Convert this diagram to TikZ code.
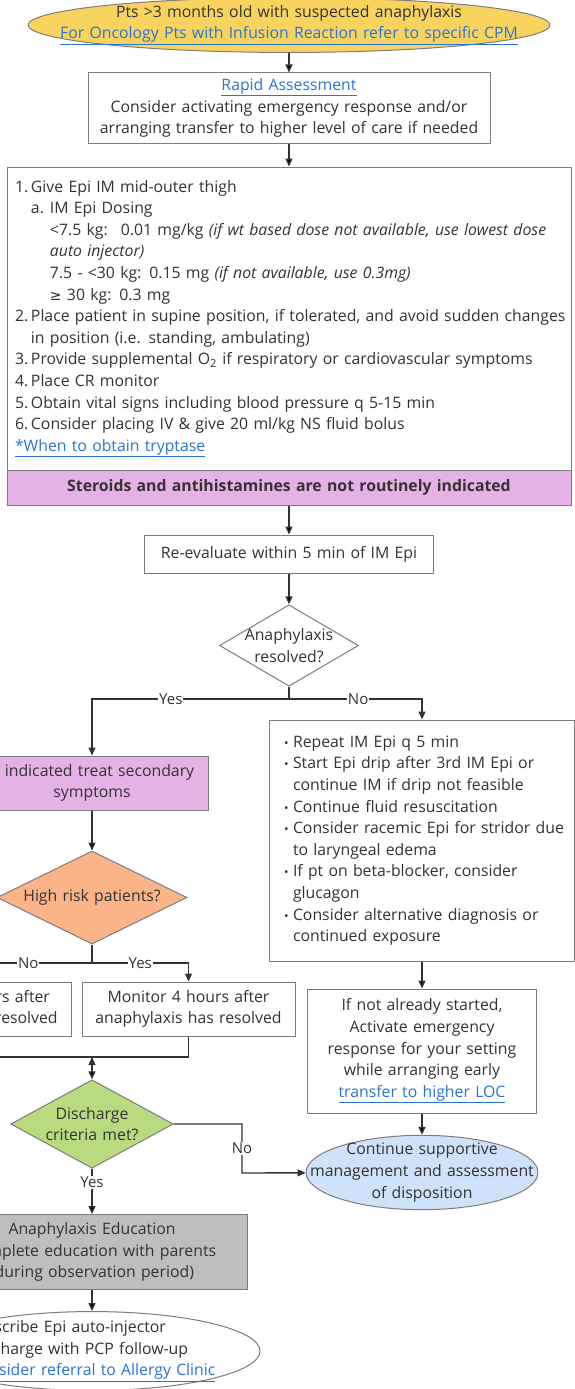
\documentclass[tikz,border=0pt]{standalone}
\usepackage{fontspec}
\setmainfont{Open Sans}
\newfontfamily\dvsans{DejaVu Sans}
\usetikzlibrary{shapes.geometric,arrows.meta}

\definecolor{startyel}{HTML}{F8D45E}
\definecolor{pinkbox}{HTML}{E6B1E4}
\definecolor{riskorng}{HTML}{FAB487}
\definecolor{dischgrn}{HTML}{B9DB7F}
\definecolor{contblue}{HTML}{CFE2FA}
\definecolor{edugray}{HTML}{BEBEBE}
\definecolor{linkblue}{HTML}{2B74D3}
\definecolor{textgray}{HTML}{333333}
\definecolor{framegray}{HTML}{7C7C7C}
\definecolor{arrowdark}{HTML}{333333}

\newcommand{\lnk}[1]{\textcolor{linkblue}{\underline{#1}}}
\newcommand{\bul}{\hspace*{9.5pt}\makebox[9pt][l]{\fontsize{12}{12}\selectfont\textbullet}}
\newcommand{\bulind}{\hspace*{18.5pt}}
\newcommand{\stepno}[1]{\makebox[16pt][l]{#1}}

\begin{document}
\begin{tikzpicture}[x=1pt,y=-1pt,
    font=\fontsize{15.8}{21.6}\selectfont,text=textgray,
    >={Triangle[length=8pt,width=7pt]},
    stepbox/.style={draw=framegray,line width=1pt,fill=white,inner sep=0pt,align=center},
    decide/.style={diamond,draw=framegray,line width=1pt,align=center},
    oval/.style={ellipse,draw=framegray,line width=1pt,align=center},
    flow/.style={draw=arrowdark,line width=1.4pt},
    yn/.style={fill=white,inner sep=1pt,font=\fontsize{15}{16}\selectfont}]
    \useasboundingbox (0,0) rectangle (575,1389);
    \clip (0,0) rectangle (575,1389);

    % main column
    \node[oval,fill=startyel,text width=520pt,inner xsep=-75.5pt,inner ysep=-0.3pt] (start) at (289,25)
        {Pts >3 months old with suspected anaphylaxis\\\lnk{For Oncology Pts with Infusion Reaction refer to specific CPM}};
    \node[stepbox,minimum width=402pt,minimum height=70pt,text width=398pt] (assess) at (289,108)
        {\lnk{Rapid Assessment}\\Consider activating emergency response and/or\\arranging transfer to higher level of care if needed};
    \node[stepbox,minimum width=564pt,minimum height=303pt,text width=548pt,inner xsep=8pt,align=left] (actions) at (289,318.5)
        {\stepno{1.}Give Epi IM mid-outer thigh\\
        \hspace*{16pt}\makebox[19pt][l]{a.}IM Epi Dosing\\
        \hspace*{35pt}<7.5 kg:~ 0.01 mg/kg \textit{(if wt based dose not available, use lowest dose}\\
        \hspace*{35pt}\textit{auto injector)}\\
        \hspace*{35pt}7.5 - <30 kg: 0.15 mg \textit{(if not available, use 0.3mg)}\\
        \hspace*{35pt}{\dvsans\fontsize{14}{16}\selectfont≥} 30 kg: 0.3 mg\\
        \mbox{\stepno{2.}Place patient in supine position, if tolerated, and avoid sudden changes}\\
        \hspace*{16pt}in position (i.e. standing, ambulating)\\
        \stepno{3.}Provide supplemental O\textsubscript{2} if respiratory or cardiovascular symptoms\\
        \stepno{4.}Place CR monitor\\
        \stepno{5.}Obtain vital signs including blood pressure q 5-15 min\\
        \stepno{6.}Consider placing IV \& give 20 ml/kg NS fluid bolus\\
        \lnk{*When to obtain tryptase}};
    \node[stepbox,fill=pinkbox,minimum width=564pt,minimum height=35pt,text width=550pt] (steroids) at (289,487.5)
        {\textbf{Steroids and antihistamines are not routinely indicated}};
    \node[stepbox,minimum width=289pt,minimum height=38pt,text width=280pt] (reeval) at (289,554)
        {Re-evaluate within 5 min of IM Epi};
    \node[decide,fill=white,shape aspect=1.706,text width=100pt,inner xsep=-13.75pt,inner ysep=2.55pt] (resolved) at (289,645.5)
        {Anaphylaxis\\resolved?};

    % resolved branch
    \node[stepbox,fill=pinkbox,minimum width=232pt,minimum height=54pt,text width=230pt] (second) at (92,783)
        {If indicated treat secondary\\symptoms};
    \node[decide,fill=riskorng,shape aspect=2.043,text width=160pt,inner xsep=-32.5pt,inner ysep=15.35pt] (risk) at (92,897.5)
        {High risk patients?};
    \node[stepbox,minimum width=213pt,minimum height=54pt,text width=208pt] (leftmon) at (-35.5,1009)
        {Monitor 12 hours after\\anaphylaxis has resolved};
    \node[stepbox,minimum width=213pt,minimum height=54pt,text width=208pt] (monitor) at (188.5,1009)
        {Monitor 4 hours after\\anaphylaxis has resolved};
    \node[decide,fill=dischgrn,shape aspect=1.837,text width=120pt,inner xsep=-17.75pt,inner ysep=4.3pt] (disch) at (92,1124)
        {Discharge\\criteria met?};
    \node[stepbox,fill=edugray,minimum width=310pt,minimum height=75pt,text width=304pt] (edu) at (92,1252)
        {Anaphylaxis Education\\Complete education with parents\\(during observation period)};
    \node[oval,fill=white,align=left,text width=244pt,inner xsep=-3.2pt,inner ysep=-2.6pt] (rx) at (92,1351)
        {Prescribe Epi auto-injector\\Discharge with PCP follow-up\\\lnk{Consider referral to Allergy Clinic}};

    % not resolved branch
    \node[stepbox,minimum width=305pt,minimum height=241pt,text width=295pt,align=left] (repeat) at (422,840.5)
        {\bul Repeat IM Epi q 5 min\\
        \bul Start Epi drip after 3rd IM Epi or\\
        \bulind continue IM if drip not feasible\\
        \bul Continue fluid resuscitation\\
        \bul Consider racemic Epi for stridor due\\
        \bulind to laryngeal edema\\
        \bul If pt on beta-blocker, consider\\
        \bulind glucagon\\
        \bul Consider alternative diagnosis or\\
        \bulind continued exposure};
    \node[stepbox,minimum width=229pt,minimum height=124pt,text width=225pt] (notstart) at (422,1051)
        {If not already started,\\Activate emergency\\response for your setting\\while arranging early\\\lnk{transfer to higher LOC}};
    \node[oval,fill=contblue,text width=250pt,inner xsep=-43pt,inner ysep=-3pt] (contin) at (422,1172.5)
        {Continue supportive\\management and assessment\\of disposition};

    \coordinate (split1) at (289,699);
    \coordinate (split2) at (92,963);
    \coordinate (merge) at (92,1057);
    \coordinate (nobend) at (242,1124);
    \coordinate (nobend2) at (242,1173);

    \path[flow,->] (start) edge (assess) (assess) edge (actions) (steroids) edge (reeval) (reeval) edge (resolved);
    \draw[flow] (resolved) -- (split1);
    \draw[flow,->] (split1) -| node[yn,pos=0.3] {Yes} (second);
    \draw[flow,->] (split1) -| node[yn,pos=0.26] {No} (repeat);
    \path[flow,->] (second) edge (risk);
    \draw[flow] (risk) -- (split2);
    \draw[flow,->] (split2) -| node[yn,pos=0.25] {Yes} (monitor);
    \draw[flow,->] (split2) -| node[yn,pos=0.25] {No} (leftmon);
    \draw[flow] (leftmon) |- (merge);
    \draw[flow] (monitor) |- (merge);
    \path[flow,->] (merge) edge (disch);
    \draw[flow,->] (disch) -- (nobend) -- node[yn] {No} (nobend2) -- (contin);
    \path[flow,->] (disch) edge node[yn,pos=0.3] {Yes} (edu);
    \path[flow,->] (edu) edge (rx) (repeat) edge (notstart) (notstart) edge (contin);
\end{tikzpicture}
\end{document}
